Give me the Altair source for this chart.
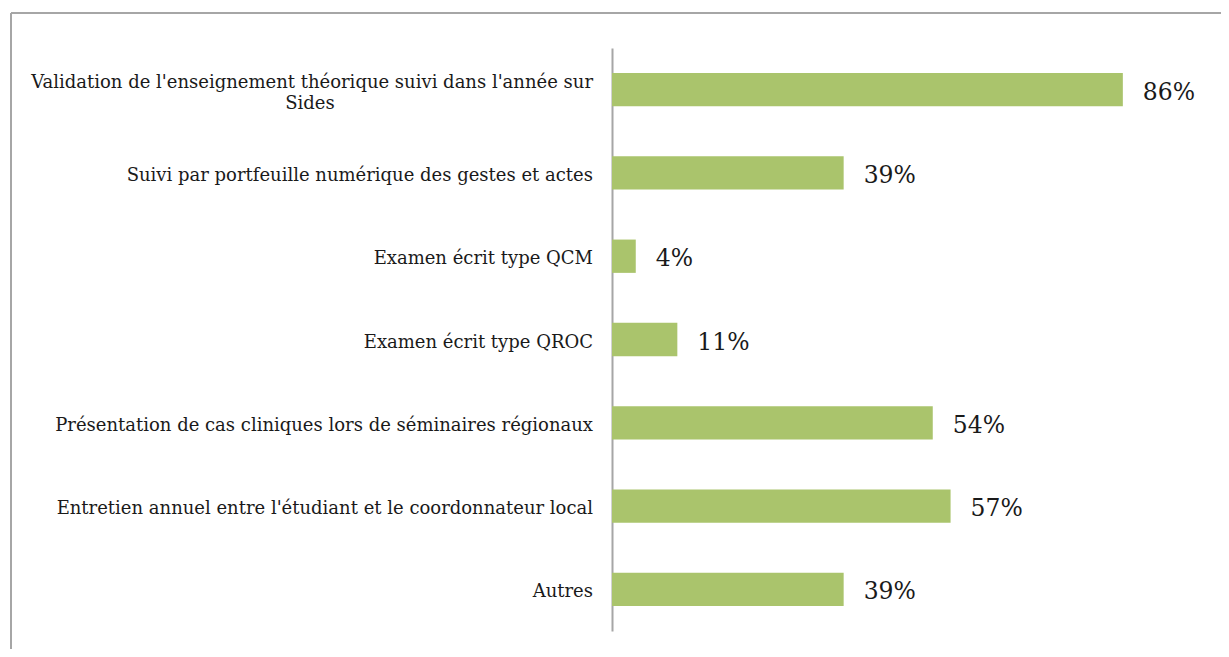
import altair as alt
import pandas as pd

categories = [
    "Validation de l'enseignement théorique suivi dans l'année sur",
    "Suivi par portfeuille numérique des gestes et actes",
    "Examen écrit type QCM",
    "Examen écrit type QROC",
    "Présentation de cas cliniques lors de séminaires régionaux",
    "Entretien annuel entre l'étudiant et le coordonnateur local",
    "Autres",
]
second_lines = ["Sides", "", "", "", "", "", ""]
values = [0.86, 0.39, 0.04, 0.11, 0.54, 0.57, 0.39]

df = pd.DataFrame({"cat": categories, "sub": second_lines, "value": values})

FONT = "DejaVu Serif"
GREEN = "#AAC46C"
GRAY = "#A6A6A6"
LABEL_SIZE = 18

y_enc = alt.Y(
    "cat:N",
    sort=categories,
    scale=alt.Scale(paddingInner=0.6, paddingOuter=0.3),
    axis=alt.Axis(labels=False, ticks=False, title=None, domainColor=GRAY, domainWidth=2),
)
x_enc = alt.X("value:Q", scale=alt.Scale(domain=[0, 1]), axis=None)

base = alt.Chart(df)

bars = base.mark_bar(color=GREEN).encode(x=x_enc, y=y_enc)

values_txt = base.mark_text(
    align="left", baseline="middle", dx=20, dy=3, font=FONT, fontSize=23.5, color="#1a1a1a"
).encode(x=x_enc, y=alt.Y("cat:N", sort=categories), text=alt.Text("value:Q", format=".0%"))

single = base.transform_filter("datum.sub == ''").mark_text(
    align="right", baseline="middle", dy=3, font=FONT, fontSize=LABEL_SIZE, color="#1a1a1a"
).encode(x=alt.value(-19), y=alt.Y("cat:N", sort=categories), text="cat:N")

first_line = base.transform_filter("datum.sub != ''").mark_text(
    align="right", baseline="middle", dy=-7, font=FONT, fontSize=LABEL_SIZE, color="#1a1a1a"
).encode(x=alt.value(-19), y=alt.Y("cat:N", sort=categories), text="cat:N")

second_line = base.transform_filter("datum.sub != ''").mark_text(
    align="center", baseline="middle", dy=14, font=FONT, fontSize=LABEL_SIZE, color="#1a1a1a"
).encode(x=alt.value(-302), y=alt.Y("cat:N", sort=categories), text="sub:N")

frame = pd.DataFrame({"k": [0]})
top_rule = alt.Chart(frame).mark_rule(color=GRAY, strokeWidth=2).encode(
    x=alt.value(-601), x2=alt.value(640), y=alt.value(-35)
)
left_rule = alt.Chart(frame).mark_rule(color=GRAY, strokeWidth=2).encode(
    x=alt.value(-601), y=alt.value(-35), y2=alt.value(640)
)

chart = alt.layer(
    bars, values_txt, single, first_line, second_line, top_rule, left_rule
).properties(
    width=594,
    height=583,
    padding={"left": 604, "top": 40, "right": 15, "bottom": 18},
    autosize=alt.AutoSizeParams(type="none"),
).configure_view(stroke=None)

chart.save("out.html", embed_options={"renderer": "svg", "actions": False})
